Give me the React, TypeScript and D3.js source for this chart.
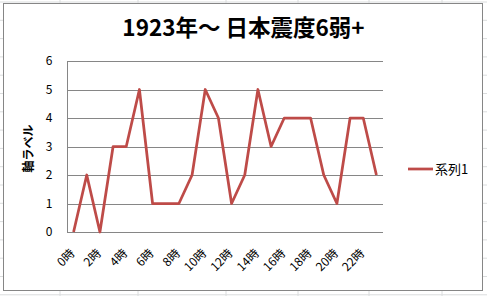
import React from "react";
import * as d3 from "d3";

const categories: string[] = Array.from({ length: 24 }, (_, i) => `${i}時`);
const values: number[] = [0, 2, 0, 3, 3, 5, 1, 1, 1, 2, 5, 4, 1, 2, 5, 3, 4, 4, 4, 2, 1, 4, 4, 2];
const yTicks: number[] = [0, 1, 2, 3, 4, 5, 6];
const seriesName = "系列1";
const title = "1923年～ 日本震度6弱+";
const yAxisTitle = "軸ラベル";

const W = 487;
const H = 296;
const plot = { left: 67, right: 383, top: 61, bottom: 232 };
const font = "'Noto Sans CJK JP', 'Noto Sans', sans-serif";
const lineColor = "#BE4B48";

export default function App() {
  const x = d3.scaleBand<string>().domain(categories).range([plot.left, plot.right]);
  const y = d3.scaleLinear().domain([0, 6]).range([plot.bottom, plot.top]);
  const cx = (c: string) => (x(c) as number) + x.bandwidth() / 2;
  const line = d3
    .line<number>()
    .x((_, i) => cx(categories[i]))
    .y((d) => y(d));

  const cellXs = [60, 138, 226, 298, 369, 442];
  const cellYs = d3.range(-1, 17).map((i) => 2 + i * 18.3);

  return (
    <svg
      width={W}
      height={H}
      style={{ position: "absolute", left: 0, top: 0, background: "#fff" }}
    >
      {cellXs.map((cxv) => (
        <line key={"cx" + cxv} x1={cxv} x2={cxv} y1={0} y2={H} stroke="#dadcdd" strokeWidth={1} />
      ))}
      {cellYs.map((cy) => (
        <line key={"cy" + cy} x1={0} x2={W} y1={cy} y2={cy} stroke="#dadcdd" strokeWidth={1} />
      ))}
      <rect x={3.5} y={3.5} width={479} height={287} fill="#fff" stroke="#868686" strokeWidth={1} />
      <text
        x={243.5}
        y={36}
        textAnchor="middle"
        fontFamily={font}
        fontWeight="bold"
        fontSize={22.5}
        fill="#000"
      >
        {title}
      </text>
      {yTicks.map((t) => (
        <g key={t}>
          <line
            x1={plot.left}
            x2={plot.right}
            y1={Math.round(y(t)) + 0.5}
            y2={Math.round(y(t)) + 0.5}
            stroke="#868686"
            strokeWidth={1}
          />
          <text
            x={52.5}
            y={y(t)}
            dy="0.35em"
            textAnchor="end"
            fontFamily={font}
            fontSize={12}
            fill="#000"
          >
            {t}
          </text>
        </g>
      ))}
      <line x1={plot.left + 0.5} x2={plot.left + 0.5} y1={plot.top} y2={plot.bottom} stroke="#868686" />
      <text
        transform={`translate(29, ${(plot.top + plot.bottom) / 2 + 2}) rotate(-90)`}
        textAnchor="middle"
        dy="0.35em"
        fontFamily={font}
        fontWeight="bold"
        fontSize={12}
        fill="#000"
      >
        {yAxisTitle}
      </text>
      {categories.map((c, i) =>
        i % 2 === 0 ? (
          <text
            key={c}
            transform={`translate(${cx(c) - 1}, 251) rotate(-45)`}
            textAnchor="end"
            dy="0.35em"
            fontFamily={font}
            fontSize={12}
            fill="#000"
          >
            {c}
          </text>
        ) : null
      )}
      <path
        d={line(values) || ""}
        fill="none"
        stroke={lineColor}
        strokeWidth={2.75}
        strokeLinejoin="round"
      />
      <line x1={408} x2={433} y1={169} y2={169} stroke={lineColor} strokeWidth={2.75} />
      <text x={435} y={169} dy="0.35em" fontFamily={font} fontSize={13} fill="#000">
        {seriesName}
      </text>
    </svg>
  );
}
